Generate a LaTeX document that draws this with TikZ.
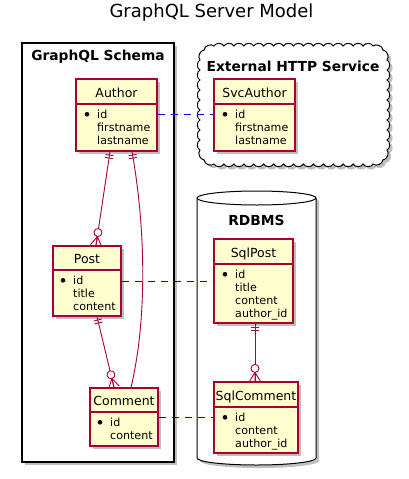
\documentclass[tikz,border=0pt]{standalone}
\usepackage{fontspec}
\setmainfont{DejaVu Sans}
\usetikzlibrary{calc,shadows,decorations.markings}
\definecolor{crim}{HTML}{A80036}
\definecolor{entfill}{HTML}{FEFECE}
\definecolor{linkblue}{HTML}{0000FF}

\tikzset{
  shadowed/.style={drop shadow={shadow xshift=3pt, shadow yshift=-3pt, opacity=0.25, fill=black}},
  entity/.style={draw=crim, fill=entfill, line width=1.2pt, inner sep=0pt, shadowed},
  enttitle/.style={inner sep=0pt, font=\fontsize{12.5}{15}\selectfont},
  attrtxt/.style={inner sep=0pt, font=\fontsize{11.1}{13}\selectfont},
  grouplabel/.style={inner sep=0pt, font=\fontsize{13.8}{16}\selectfont\bfseries},
  frame/.style={draw=black, fill=white, line width=1.3pt, inner sep=0pt, shadowed},
  outline/.style={draw=black, line width=1pt, fill=white},
  shadowfill/.style={fill=black, opacity=0.25},
  link/.style={draw=linkblue, line width=0.9pt, dash pattern=on 7pt off 6pt},
  one2many/.style={draw=crim, line width=0.9pt, postaction={decorate, decoration={markings,
      mark=at position 0 with {\draw[crim, line width=0.9pt] (3.5pt,-4pt) -- (3.5pt,4pt) (6.5pt,-4pt) -- (6.5pt,4pt);},
      mark=at position 1 with {\draw[crim, line width=0.9pt, fill=white] (-13pt,0pt) circle (4pt);
                               \draw[crim, line width=0.9pt] (-9pt,0pt) -- (0pt,0pt) (-9pt,0pt) -- (0pt,5.5pt) (-9pt,0pt) -- (0pt,-5.5pt);}}}},
  bump/.style={bend left=65},
}

\newcommand\entbox[7]{%
  \node[entity, minimum width={#4-#2}, minimum height={#5-#3}] (#1) at ({(#2+#4)/2},{(#3+#5)/2}) {};
  \draw[crim, line width=1.2pt] (#2,#6) -- (#4,#6);
  \node[enttitle, anchor=base] (#1-title) at ({(#2+#4)/2},{#6-7}) {#7};
}
\newcommand\entattrs[4]{%
  \fill (#2-10,#3+10.3) circle (2.3pt);
  \foreach \t [count=\i] in {#4} {
    \node[attrtxt, anchor=base west] (#1-a\i) at (#2,{#3+14.5+13*(\i-1)}) {\t};
  }
}
\newcommand\cloudpath{%
  (214,46)
  \foreach \i in {1,...,16} { to[bump] ({214+159*\i/16},46) }
  to[bump] (382.9,50.1) to[bump] (387,60)
  \foreach \i in {1,...,9} { to[bump] (387,{60+10*\i}) }
  to[bump] (382.9,159.9) to[bump] (373,164)
  \foreach \i in {1,...,16} { to[bump] ({373-159*\i/16},164) }
  to[bump] (204.1,159.9) to[bump] (200,150)
  \foreach \i in {1,...,9} { to[bump] (200,{150-10*\i}) }
  to[bump] (204.1,50.1) to[bump] (214,46) -- cycle
}

\begin{document}
\begin{tikzpicture}[x=1pt,y=-1pt]
\useasboundingbox (0,0) rectangle (408,479);

% title
\node[inner sep=0pt, font=\fontsize{18}{22}\selectfont, anchor=base] (title) at (211.5,17) {GraphQL Server Model};

% GraphQL Schema frame
\node[frame, minimum width=152pt, minimum height=419pt] (schema) at (98,252.5) {};
\node[grouplabel, anchor=base] (schemalabel) at (98,60) {GraphQL Schema};

% cloud
\begin{scope}[shift={(3,3)}]
  \path[shadowfill] \cloudpath;
\end{scope}
\path[outline] \cloudpath;
\node[grouplabel, anchor=base] (cloudlabel) at (293,71) {External HTTP Service};

% RDBMS cylinder
\fill[shadowfill] (200,201) -- (200,461) arc[start angle=180, end angle=360, x radius=59.5pt, y radius=7pt] -- (319,201) arc[start angle=0, end angle=180, x radius=59.5pt, y radius=7pt] -- cycle;
\path[outline] (197,198) -- (197,458) arc[start angle=180, end angle=360, x radius=59.5pt, y radius=7pt] -- (316,198);
\path[outline] (256.5,198) ellipse[x radius=59.5pt, y radius=7pt];
\node[grouplabel, anchor=base] (dblabel) at (256.5,225) {RDBMS};

% entities
\entbox{author}{76}{79}{157}{151}{104}{Author}
\entattrs{author}{97}{104}{id,firstname,lastname}

\entbox{svcauthor}{214}{79}{295}{151}{104}{SvcAuthor}
\entattrs{svcauthor}{235}{104}{id,firstname,lastname}

\entbox{post}{53}{246}{121}{316}{270}{Post}
\entattrs{post}{73}{270}{id,title,content}

\entbox{sqlpost}{214}{239}{293}{323}{264}{SqlPost}
\entattrs{sqlpost}{235}{264}{id,title,content,author\_id}

\entbox{comment}{90}{388}{158}{446}{412}{Comment}
\entattrs{comment}{110}{412}{id,content}

\entbox{sqlcomment}{214}{382}{298}{453}{407}{SqlComment}
\entattrs{sqlcomment}{235}{407}{id,content,author\_id}

% relations
\draw[one2many] ($(author.south)+(-6.5,0)$) -- ($(post.north)+(9,0)$);
\draw[one2many] ($(author.south)+(15.5,0)$) .. controls (146,230) and (147,320) .. ($(comment.north)+(7,0)$);
\draw[one2many] ($(post.south)+(10,0)$) -- ($(comment.north)+(-10,0)$);
\draw[one2many] ($(sqlpost.south)+(1.5,0)$) -- ($(sqlcomment.north)+(-1,0)$);

% mappings
\draw[link] ($(author.east)+(0,-1)$) -- ($(svcauthor.west)+(0,-1)$);
\draw[link] (post.east) -- (sqlpost.west);
\draw[link] (comment.east) -- ($(sqlcomment.west)+(0,-0.5)$);
\end{tikzpicture}
\end{document}
